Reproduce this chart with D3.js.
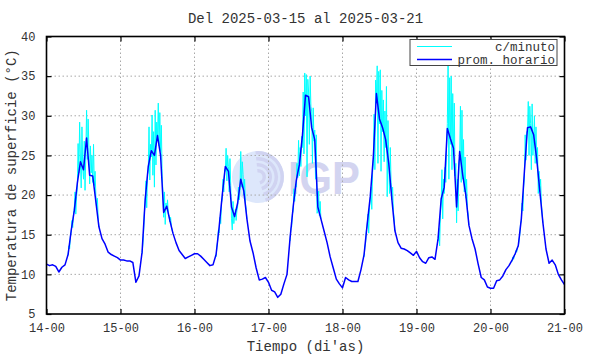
<!DOCTYPE html>
<html>
<head>
<meta charset="utf-8">
<script src="https://cdn.jsdelivr.net/npm/d3@7"></script>
<style>
  body { margin: 0; background: #fff; }
  svg { display: block; font-family: "Liberation Mono", "DejaVu Sans Mono", monospace; }
</style>
</head>
<body>
<div id="chart"></div>
<script>
/* Temperatura de superficie, semana 2025-03-15 al 2025-03-21 */

const title = "Del 2025-03-15 al 2025-03-21";
const xLabel = "Tiempo (di'as)";
const yLabel = "Temperatura de superficie (°C)";
const legendNames = ["c/minuto", "prom. horario"];

const xTickLabels = ["14-00", "15-00", "16-00", "17-00", "18-00", "19-00", "20-00", "21-00"];
const yTicks = [5, 10, 15, 20, 25, 30, 35, 40];

// promedio horario, una lectura por hora desde 14-00
const hourly = [
  11.3, 11.1, 11.2, 11.0, 10.3, 10.9, 11.2, 12.5, 15.5, 18.0, 21.5, 24.2, 23.2, 27.2, 22.5, 22.4, 19.2, 16.0, 14.5, 13.8, 12.8, 12.5, 12.3, 12.1,
  11.8, 11.8, 11.7, 11.7, 11.5, 9.0, 9.8, 12.8, 19.4, 23.6, 25.6, 25.0, 27.5, 25.0, 17.8, 18.6, 16.8, 15.2, 14.0, 13.0, 12.5, 12.0, 12.2, 12.4,
  12.6, 12.6, 12.3, 11.9, 11.5, 11.1, 11.2, 12.5, 16.0, 20.0, 23.6, 23.0, 18.5, 17.3, 19.0, 22.0, 20.5, 17.0, 14.2, 12.7, 10.8, 9.3, 9.4, 9.6,
  9.0, 8.0, 7.8, 7.1, 7.5, 8.8, 10.0, 14.6, 18.5, 21.8, 23.8, 27.5, 32.6, 32.4, 28.5, 27.0, 18.5, 17.0, 15.5, 14.0, 12.2, 10.8, 9.4, 8.8,
  8.3, 9.6, 9.3, 9.1, 9.1, 9.1, 10.6, 12.5, 16.3, 19.8, 24.8, 32.8, 29.6, 28.5, 27.0, 24.0, 19.5, 15.5, 14.0, 13.3, 13.2, 13.0, 12.7, 12.4,
  12.9, 12.1, 11.6, 11.4, 12.1, 12.2, 11.9, 14.5, 19.5, 21.0, 28.4, 27.1, 25.9, 18.5, 25.5, 22.5, 20.0, 16.2, 14.5, 13.2, 11.3, 9.6, 9.3, 8.4,
  8.25, 8.25, 9.2, 9.3, 9.8, 10.6, 11.1, 11.8, 12.6, 13.6, 17.0, 23.0, 28.5, 28.6, 27.6, 24.5, 20.5, 16.5, 13.2, 11.4, 11.8, 11.2, 10.0, 9.3,
  8.7
];

// lecturas c/minuto (muestra cada 15 min) de 07:00 a 17:00 de cada dia
const cyanStartHours = [7, 31, 55, 79, 103, 127, 151];
const cyanDay14 = [12.4, 13.6, 13.2, 14.8, 15.3, 16.8, 15.9, 17.6, 18.2, 20.4, 17.6, 19.8, 21.0, 26.5, 22.8, 29.2, 24.8, 20.9, 28.6, 23.4,
  22.0, 26.8, 20.6, 25.2, 30.7, 24.5, 29.6, 26.0, 21.4, 26.2, 22.8, 25.0, 21.6, 26.4, 21.2, 23.0, 20.0, 18.3, 19.6, 17.2, 16.0];
const cyanDay15 = [12.6, 13.8, 15.4, 17.8, 19.0, 21.8, 18.4, 22.6, 23.0, 28.6, 21.9, 26.4, 24.8, 30.1, 22.5, 28.0, 21.0, 30.7, 23.8, 29.2,
  27.0, 31.6, 26.2, 30.4, 25.5, 28.8, 22.4, 20.5, 17.2, 20.4, 16.3, 19.0, 18.2, 19.4, 17.6, 17.4, 16.6, 17.2, 16.0, 15.6, 15.2];
const cyanDay16 = [12.2, 13.4, 14.2, 15.6, 15.2, 17.2, 16.4, 19.0, 19.5, 22.0, 20.4, 23.2, 23.0, 25.9, 21.8, 25.0, 23.6, 20.4, 24.6, 21.2,
  17.0, 15.6, 19.2, 16.4, 17.4, 18.2, 16.8, 18.0, 18.6, 21.0, 19.4, 20.6, 25.5, 21.0, 24.2, 22.6, 20.0, 22.0, 19.0, 18.2, 17.0];
const cyanDay17 = [14.2, 15.8, 16.0, 17.6, 18.0, 20.8, 19.2, 21.4, 21.0, 24.0, 22.2, 26.9, 22.4, 26.0, 23.6, 27.4, 26.0, 33.0, 25.2, 35.4,
  30.0, 35.2, 22.3, 34.6, 33.0, 26.4, 35.0, 31.2, 30.6, 24.0, 31.0, 26.8, 28.2, 22.0, 27.6, 17.7, 18.0, 20.5, 17.4, 19.2, 17.0];
const cyanDay18 = [12.2, 13.4, 14.0, 15.6, 16.0, 17.6, 15.2, 18.4, 19.4, 21.0, 18.2, 22.8, 24.0, 30.2, 23.2, 34.5, 32.0, 36.3, 24.0, 35.6,
  29.0, 35.8, 23.0, 33.2, 28.0, 32.0, 24.2, 30.6, 26.0, 33.7, 19.8, 29.4, 24.4, 20.2, 26.0, 21.6, 19.4, 21.0, 18.0, 17.0, 15.5];
const cyanDay19 = [14.2, 15.8, 13.6, 17.4, 19.0, 23.2, 17.0, 22.0, 20.2, 23.5, 21.6, 26.0, 29.0, 37.0, 22.0, 34.8, 26.4, 35.0, 23.2, 32.8,
  25.0, 31.6, 22.4, 24.0, 16.5, 22.0, 18.0, 24.2, 24.6, 31.2, 21.6, 30.7, 22.0, 27.0, 20.4, 24.8, 19.6, 22.0, 18.2, 17.6, 16.2];
const cyanDay20 = [11.6, 12.2, 11.9, 12.4, 12.5, 13.0, 12.8, 13.4, 13.5, 14.2, 15.0, 16.4, 16.8, 19.0, 18.0, 21.0, 22.4, 27.6, 24.4, 28.0,
  28.0, 31.8, 25.0, 31.2, 29.0, 23.2, 31.5, 25.0, 27.0, 30.0, 24.0, 28.6, 24.0, 26.0, 20.2, 23.0, 20.4, 22.0, 19.0, 17.6, 16.5];
const cyanDays = [cyanDay14, cyanDay15, cyanDay16, cyanDay17, cyanDay18, cyanDay19, cyanDay20];

const width = 590,
    height = 354,
    margin = ({top: 36.5, right: 25.5, bottom: 40, left: 46.5});

const textColor = "#333";

let svg = d3.select("#chart")
    .append("svg")
    .attr("width", width)
    .attr("height", height);

let x = d3.scaleLinear()
    .domain([0, 168])
    .range([margin.left, width - margin.right]);

let y = d3.scaleLinear()
    .domain([5, 40])
    .range([height - margin.bottom, margin.top]);

const xTicks = xTickLabels.map((d, i) => i * 24);

// marca de agua IGP
let logo = svg.append("g");
logo.append("circle")
    .attr("cx", 258).attr("cy", 177).attr("r", 26)
    .attr("fill", "#dde7fb");
[26, 20, 14, 8].forEach(r => {
    logo.append("path")
        .attr("d", d3.arc()({innerRadius: r - 3.5, outerRadius: r, startAngle: -0.1, endAngle: Math.PI * 0.9}))
        .attr("transform", "translate(258,177)")
        .attr("fill", "#d0d3f1");
});
logo.append("text")
    .attr("x", 288).attr("y", 194)
    .attr("font-family", "Liberation Sans, Arial, sans-serif")
    .attr("font-weight", "bold")
    .attr("font-size", 46)
    .attr("textLength", 72)
    .attr("lengthAdjust", "spacingAndGlyphs")
    .attr("fill", "#d3d4f0")
    .text("IGP");

// rejilla
svg.append("g")
    .selectAll("line")
    .data(xTicks.slice(1, -1))
    .join("line")
    .attr("x1", d => x(d)).attr("x2", d => x(d))
    .attr("y1", margin.top).attr("y2", height - margin.bottom)
    .attr("stroke", "#a8a8a8")
    .attr("stroke-dasharray", "1.5,2.5");

svg.append("g")
    .selectAll("line")
    .data(yTicks.slice(1, -1))
    .join("line")
    .attr("x1", margin.left).attr("x2", width - margin.right)
    .attr("y1", d => y(d)).attr("y2", d => y(d))
    .attr("stroke", "#a8a8a8")
    .attr("stroke-dasharray", "1.5,2.5");

svg.append("clipPath").attr("id", "plot")
    .append("rect")
    .attr("x", margin.left).attr("y", margin.top)
    .attr("width", width - margin.left - margin.right)
    .attr("height", height - margin.top - margin.bottom);

let line = d3.line()
    .x(d => x(d[0]))
    .y(d => y(d[1]));

let lines = svg.append("g").attr("clip-path", "url(#plot)");

cyanDays.forEach((vals, k) => {
    lines.append("path")
        .datum(vals.map((v, i) => [cyanStartHours[k] + i * 0.25, v]))
        .attr("fill", "none")
        .attr("stroke", "#00ffff")
        .attr("stroke-width", 1)
        .attr("d", line);
});

lines.append("path")
    .datum(hourly.map((v, i) => [i, v]))
    .attr("fill", "none")
    .attr("stroke", "#0000ff")
    .attr("stroke-width", 1.5)
    .attr("stroke-linejoin", "round")
    .attr("d", line);

// ejes (con marcas hacia adentro en los cuatro lados)
const xAxis = g => g
    .attr("transform", `translate(0,${height - margin.bottom})`)
    .call(d3.axisBottom(x).tickValues(xTicks).tickFormat((d, i) => xTickLabels[i]).tickSizeInner(-5).tickSizeOuter(0).tickPadding(9));

const xAxisTop = g => g
    .attr("transform", `translate(0,${margin.top})`)
    .call(d3.axisTop(x).tickValues(xTicks).tickFormat("").tickSizeInner(-5).tickSizeOuter(0));

const yAxis = g => g
    .attr("transform", `translate(${margin.left},0)`)
    .call(d3.axisLeft(y).tickValues(yTicks).tickSizeInner(-5).tickSizeOuter(0).tickPadding(11));

const yAxisRight = g => g
    .attr("transform", `translate(${width - margin.right},0)`)
    .call(d3.axisRight(y).tickValues(yTicks).tickFormat("").tickSizeInner(-5).tickSizeOuter(0));

[xAxis, xAxisTop, yAxis, yAxisRight].forEach(a => {
    svg.append("g")
        .call(a)
        .call(g => g.select(".domain").remove())
        .call(g => g.selectAll(".tick line").attr("stroke", "#000").attr("stroke-width", 1.2))
        .call(g => g.selectAll(".tick text")
            .attr("fill", textColor)
            .attr("font-family", "Liberation Mono, monospace")
            .attr("font-size", 12));
});

svg.append("rect")
    .attr("x", margin.left).attr("y", margin.top)
    .attr("width", width - margin.left - margin.right)
    .attr("height", height - margin.top - margin.bottom)
    .attr("fill", "none")
    .attr("stroke", "#000")
    .attr("stroke-width", 1.6);

// leyenda
let legend = svg.append("g");
legend.append("rect")
    .attr("x", 410).attr("y", 39.5)
    .attr("width", 147).attr("height", 26)
    .attr("fill", "#fff")
    .attr("stroke", "#444");

const legendColors = ["#00ffff", "#0000ff"];
legendNames.forEach((name, i) => {
    let ly = 46.5 + i * 13;
    legend.append("line")
        .attr("x1", 417).attr("x2", 452)
        .attr("y1", ly).attr("y2", ly)
        .attr("stroke", legendColors[i])
        .attr("stroke-width", i ? 1.5 : 1);
    legend.append("text")
        .attr("x", 555).attr("y", ly)
        .attr("dy", "0.35em")
        .attr("text-anchor", "end")
        .attr("font-size", 12.5)
        .attr("fill", textColor)
        .text(name);
});

// titulos
svg.append("text")
    .attr("x", (margin.left + width - margin.right) / 2).attr("y", 23)
    .attr("text-anchor", "middle")
    .attr("font-size", 14)
    .attr("fill", textColor)
    .text(title);

svg.append("text")
    .attr("x", (margin.left + width - margin.right) / 2).attr("y", 351)
    .attr("text-anchor", "middle")
    .attr("font-size", 14)
    .attr("fill", textColor)
    .text(xLabel);

svg.append("text")
    .attr("transform", `translate(16,${(margin.top + height - margin.bottom) / 2}) rotate(-90)`)
    .attr("text-anchor", "middle")
    .attr("font-size", 14)
    .attr("fill", textColor)
    .text(yLabel);
</script>
</body>
</html>
